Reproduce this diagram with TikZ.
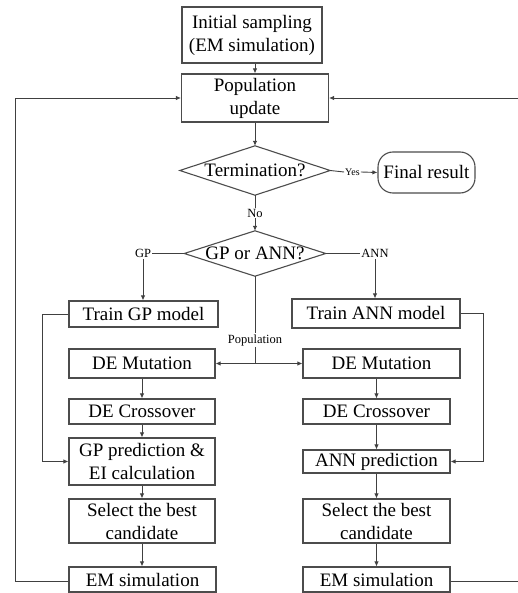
\documentclass[tikz,border=0pt]{standalone}
\usepackage{fontspec}
\setmainfont{Liberation Serif}
\newfontfamily\tnr{Liberation Serif}
\usetikzlibrary{arrows.meta}
\begin{document}
\begin{tikzpicture}[x=1pt,y=-1pt,
  box/.style={draw=black!70, line width=1.1pt, inner sep=0pt, align=center,
    font=\tnr\fontsize{19}{23}\selectfont},
  dia/.style={inner sep=0pt, align=center, font=\tnr\fontsize{19}{23}\selectfont},
  lab/.style={inner sep=1pt, font=\tnr\fontsize{12.5}{14}\selectfont},
  conn/.style={draw=black!75, line width=0.9pt},
  arr/.style={conn, -{Latex[length=5pt,width=4.5pt]}}]
\useasboundingbox (0,0) rectangle (518,593);

\node[box, minimum width=140, minimum height=56] (init) at (252,35) {Initial sampling\\(EM simulation)};
\node[box, minimum width=147, minimum height=48] (pop) at (255,98) {Population\\update};
\node[dia, minimum width=150, minimum height=49] (term) at (255,170.5) {Termination?};
\draw[box] (term.west) -- (term.north) -- (term.east) -- (term.south) -- cycle;
\node[lab, font=\tnr\fontsize{10}{12}\selectfont] (yes) at (352.5,172) {Yes};
\node[box, rounded corners=15pt, minimum width=97, minimum height=41] (final) at (426.5,172.5) {Final result};
\node[lab] (no) at (255,213) {No};
\node[dia, minimum width=141, minimum height=45] (gpann) at (255,253.5) {GP or ANN?};
\draw[box] (gpann.west) -- (gpann.north) -- (gpann.east) -- (gpann.south) -- cycle;
\node[lab] (gplab) at (143,253.5) {GP};
\node[lab] (annlab) at (375,253.5) {ANN};
\node[lab] (poplab) at (255,340) {Population};
\coordinate (split) at (255,363.5);

\node[box, minimum width=149, minimum height=26] (traingp) at (143.5,314) {Train GP model};
\node[box, minimum width=168, minimum height=29] (trainann) at (376,313.5) {Train ANN model};
\node[box, minimum width=146, minimum height=29] (demutL) at (142,363.5) {DE Mutation};
\node[box, minimum width=157, minimum height=29] (demutR) at (381.5,363.5) {DE Mutation};
\node[box, minimum width=146, minimum height=25] (crossL) at (142,411.5) {DE Crossover};
\node[box, minimum width=147, minimum height=25] (crossR) at (376.5,411.5) {DE Crossover};
\node[box, minimum width=146, minimum height=47] (gppred) at (142,461.5) {GP prediction \&\\EI calculation};
\node[box, minimum width=147, minimum height=23] (annpred) at (376.5,461.5) {ANN prediction};
\node[box, minimum width=146, minimum height=44] (selL) at (142,521) {Select the best\\candidate};
\node[box, minimum width=147, minimum height=44] (selR) at (376.5,521) {Select the best\\candidate};
\node[box, minimum width=147, minimum height=25] (emL) at (142.5,579.5) {EM simulation};
\node[box, minimum width=147, minimum height=25] (emR) at (376.5,579.5) {EM simulation};

\draw[arr] (init.south -| pop.north) -- (pop.north);
\draw[arr] (pop.south) -- (term.north);
\draw[conn] (term.east) -- (yes.west);
\draw[arr] (yes.east) -- (final.west);
\draw[conn] (term.south) -- (no.north);
\draw[arr] (no.south) -- (gpann.north);
\draw[conn] (gpann.west) -- (gplab.east);
\draw[conn] (gpann.east) -- (annlab.west);
\draw[arr] (gplab.south) -- (traingp.north -| gplab.south);
\draw[arr] (annlab.south) -- (trainann.north -| annlab.south);
\draw[conn] (gpann.south) -- (poplab.north);
\draw[conn] (poplab.south) -- (split);
\draw[arr] (split) -- (demutL.east);
\draw[arr] (split) -- (demutR.west);

\draw[arr] (demutL.south) -- (crossL.north);
\draw[arr] (crossL.south) -- (gppred.north);
\draw[arr] (gppred.south) -- (selL.north);
\draw[arr] (selL.south) -- (emL.north -| selL.south);
\draw[arr] (demutR.south -| crossR.north) -- (crossR.north);
\draw[arr] (crossR.south) -- (annpred.north);
\draw[arr] (annpred.south) -- (selR.north);
\draw[arr] (selR.south) -- (emR.north);

\draw[arr] (traingp.west) -- ++(-26,0) |- (gppred.west);
\draw[arr] (trainann.east) -- ++(23,0) |- (annpred.east);
\coordinate (lc) at (15,581);
\coordinate (rc) at (521,581);
\draw[arr] (emL.west |- lc) -- (lc) |- (pop.west);
\draw[arr] (emR.east |- rc) -- (rc) |- (pop.east);
\end{tikzpicture}
\end{document}
